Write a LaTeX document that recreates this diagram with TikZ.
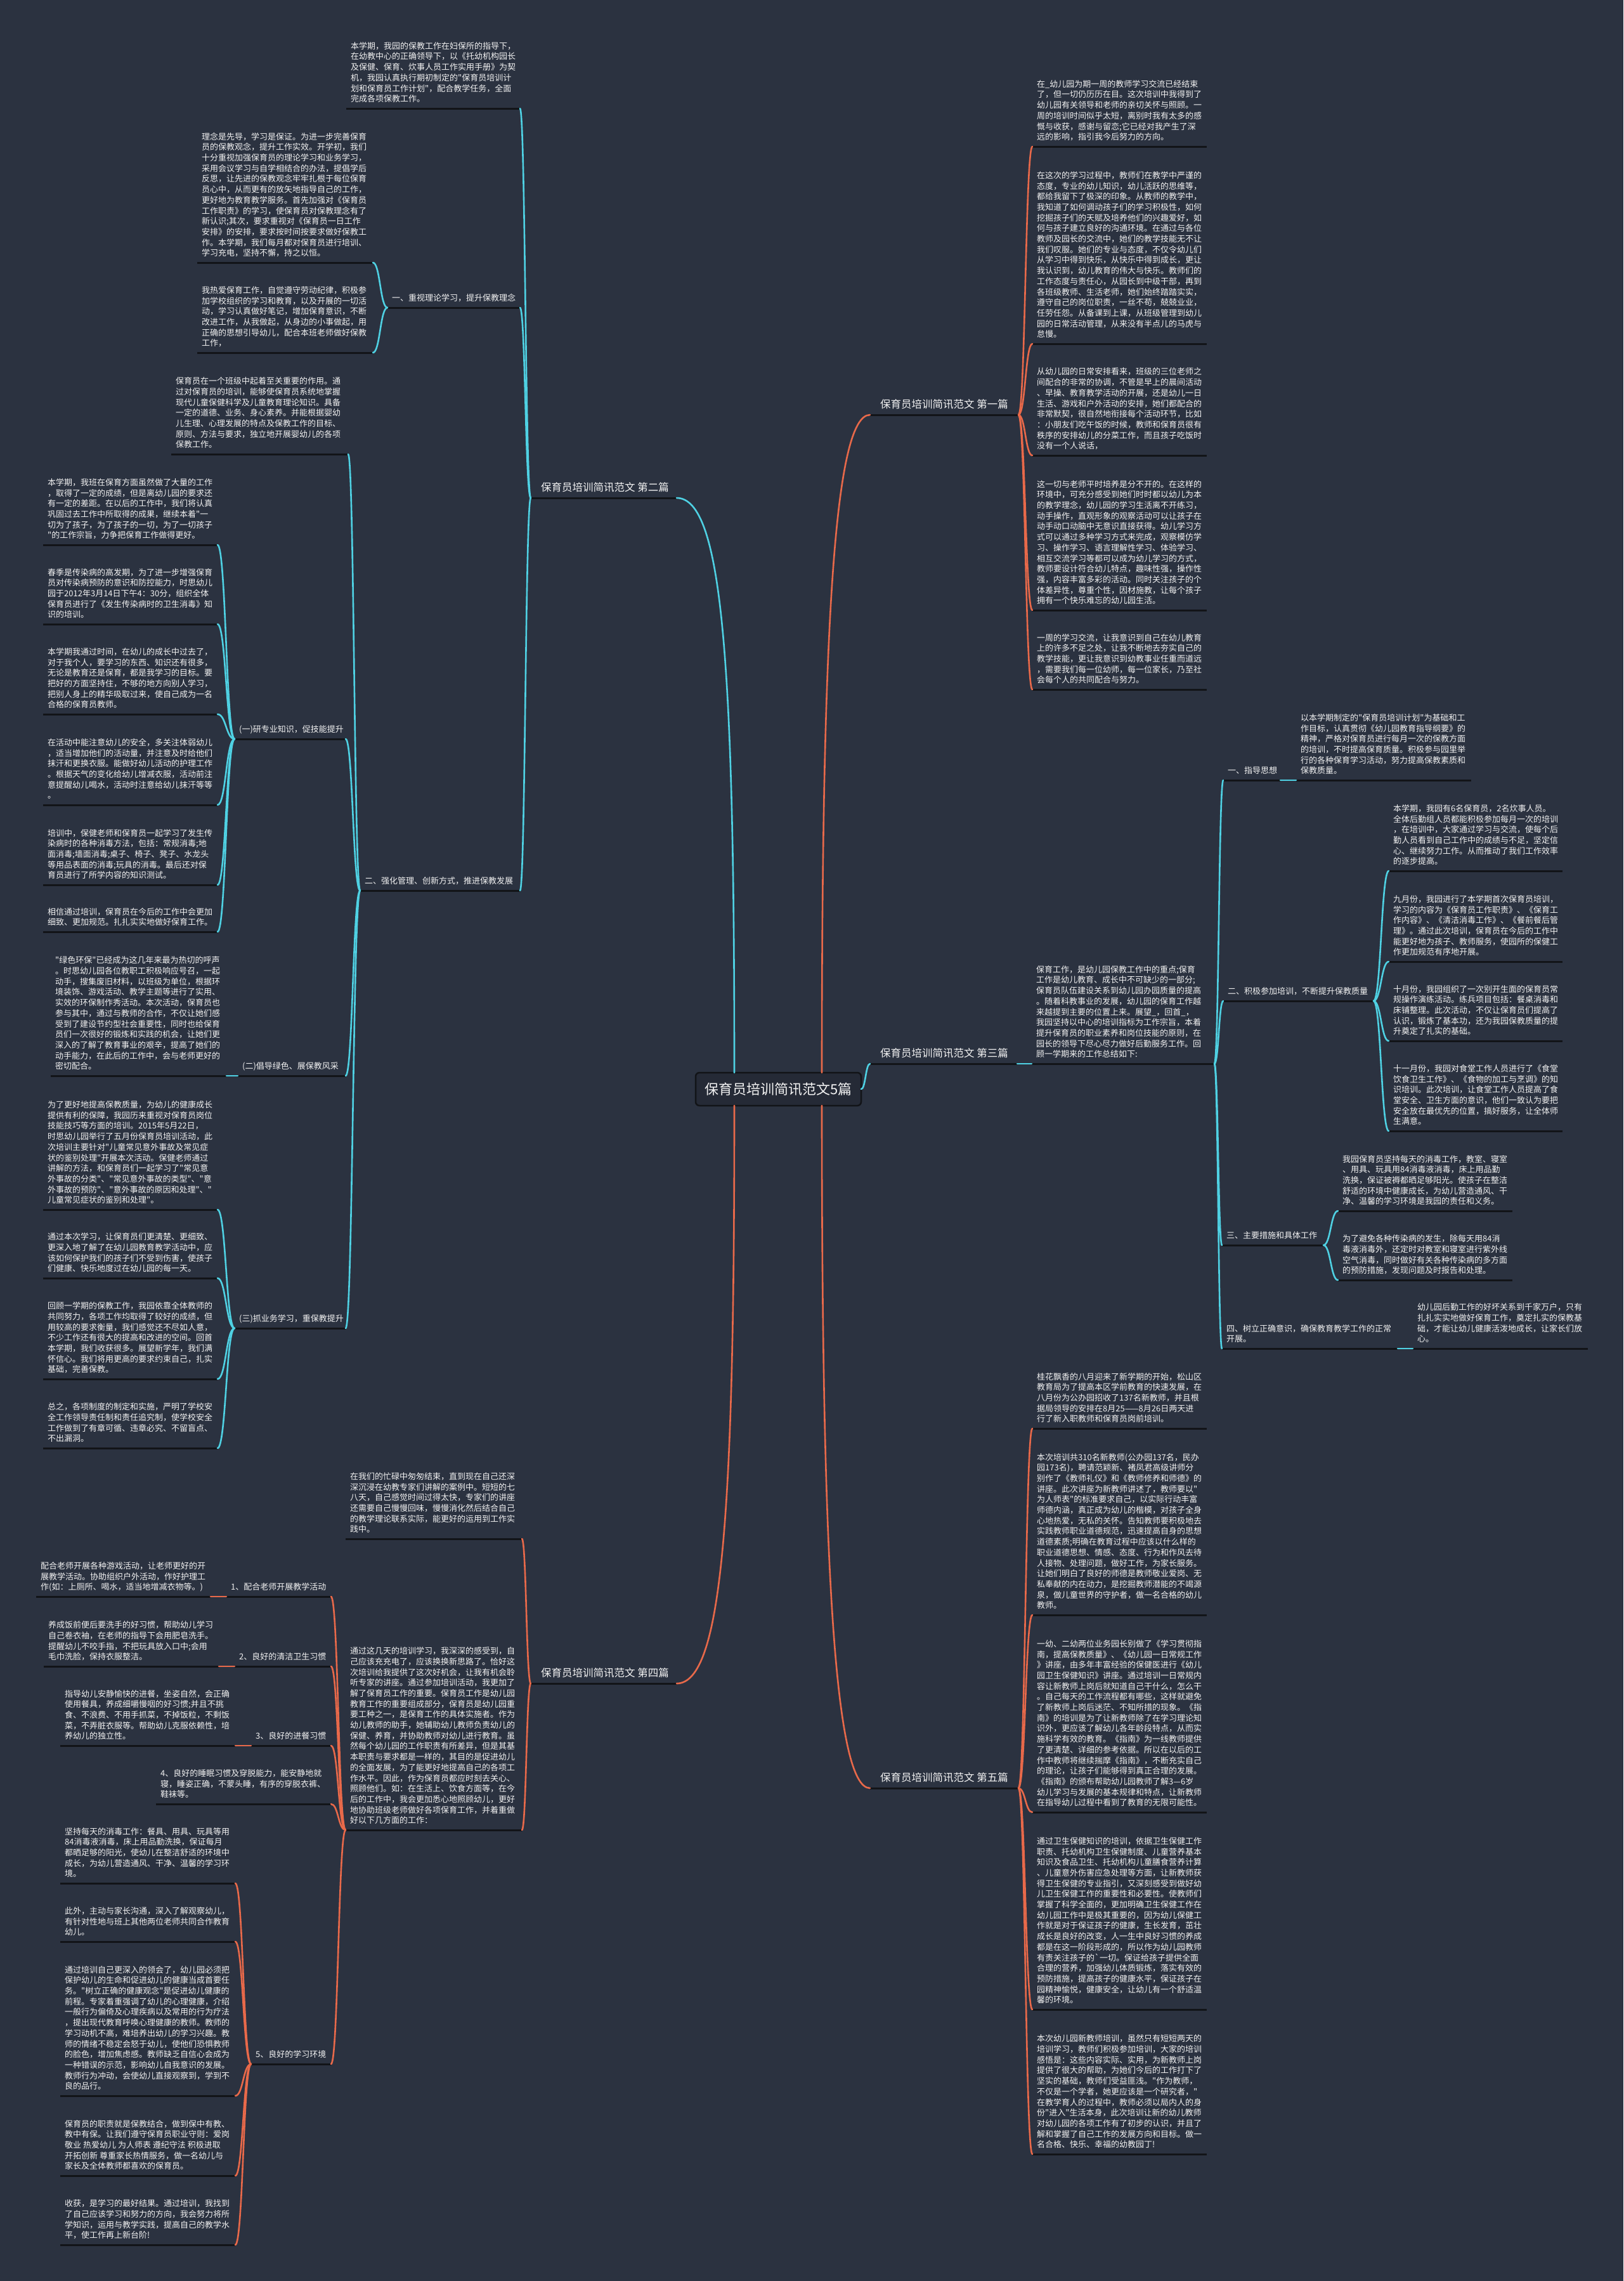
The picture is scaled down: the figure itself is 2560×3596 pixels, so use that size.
\documentclass[tikz,border=0pt]{standalone}
\usepackage{fontspec}
\newfontfamily\cjk{Noto Sans CJK SC}
\usetikzlibrary{calc}
\definecolor{bgc}{HTML}{2B3240}
\definecolor{txtc}{HTML}{F2F2F2}
\definecolor{ulc}{HTML}{121418}
\definecolor{orc}{HTML}{E8694A}
\definecolor{cyc}{HTML}{4FD1E3}
\tikzset{
  txt/.style={font=\cjk\fontsize{13}{16.7}\selectfont, text=txtc, align=left, anchor=south west, inner sep=0pt, execute at end node=\strut},
  btxt/.style={font=\cjk\fontsize{16.5}{20}\selectfont, text=txtc, align=left, anchor=south west, inner sep=0pt, execute at end node=\strut},
  uline/.style={draw=ulc, line width=3pt},
  oconn/.style={draw=orc, line width=2.6pt, line cap=round},
  cconn/.style={draw=cyc, line width=2.6pt, line cap=round},
  centerbox/.style={font=\cjk\fontsize{22}{26}\selectfont, text=txtc, fill=bgc!85!black, draw=ulc, line width=2.5pt, rounded corners=6pt, minimum width=261pt, minimum height=52pt, inner sep=0pt}
}
\newcommand\mmnode[5]{%
  \coordinate (#1L) at (#2,#4);
  \coordinate (#1R) at (#3,#4);
  \node[txt] (#1) at (#2+7,#4-5) {#5};
  \draw[uline] (#1L) -- (#1R);}
\newcommand\mmbranch[5]{%
  \coordinate (#1L) at (#2,#4);
  \coordinate (#1R) at (#3,#4);
  \node[btxt] (#1) at (#2+16,#4-4) {#5};
  \draw[uline] (#1L) -- (#1R);}
\newcommand\mmlink[3]{\draw[#1] (#2) .. controls ($(#2)!0.5!(#2-|#3)$) and ($(#3)!0.5!(#3-|#2)$) .. (#3);}
\begin{document}
\begin{tikzpicture}[x=1pt,y=-1pt]
\fill[bgc] (0,0) rectangle (2560,3596);
\useasboundingbox (0,0) rectangle (2560,3596);

% ---------- centre ----------
\node[centerbox] (ctr) at (1227.5,1717) {保育员培训简讯范文5篇};
\coordinate (ctrTR) at (1296,1691);
\coordinate (ctrBR) at (1296,1743);
\coordinate (ctrR) at (1358,1717);
\coordinate (ctrTL) at (1158,1691);
\coordinate (ctrBL) at (1158,1743);

% ---------- branch labels ----------
\mmbranch{BrA}{1372}{1606}{654}{保育员培训简讯范文 第一篇}
\mmbranch{BrB}{837}{1067}{785}{保育员培训简讯范文 第二篇}
\mmbranch{BrC}{1372}{1604}{1677}{保育员培训简讯范文 第三篇}
\mmbranch{BrD}{837}{1067}{2654}{保育员培训简讯范文 第四篇}
\mmbranch{BrE}{1372}{1606}{2819}{保育员培训简讯范文 第五篇}

\draw[oconn] (ctrTR) .. controls (1296,1000) and (1315,654) .. (BrAL);
\mmlink{cconn}{ctrR}{BrCL}
\draw[oconn] (ctrBR) .. controls (1296,2450) and (1315,2819) .. (BrEL);
\draw[cconn] (ctrTL) .. controls (1158,1050) and (1140,785) .. (BrBR);
\draw[oconn] (ctrBL) .. controls (1158,2380) and (1140,2654) .. (BrDR);

% ---------- 第二篇 ----------
\mmnode{Ta}{546}{820}{171}{本学期，我园的保教工作在妇保所的指导下，\\在幼教中心的正确领导下，以《托幼机构园长\\及保健、保育、炊事人员工作实用手册》为契\\机，我园认真执行期初制定的"保育员培训计\\划和保育员工作计划"，配合教学任务，全面\\完成各项保教工作。}
\mmnode{Oa}{611}{820}{485}{一、重视理论学习，提升保教理念}
\mmnode{Aa}{311}{588}{414}{理念是先导，学习是保证。为进一步完善保育\\员的保教观念，提升工作实效。开学初，我们\\十分重视加强保育员的理论学习和业务学习，\\采用会议学习与自学相结合的办法，提倡学后\\反思，让先进的保教观念牢牢扎根于每位保育\\员心中，从而更有的放矢地指导自己的工作，\\更好地为教育教学服务。首先加强对《保育员\\工作职责》的学习，使保育员对保教理念有了\\新认识;其次，要求重视对《保育员一日工作\\安排》的安排，要求按时间按要求做好保教工\\作。本学期，我们每月都对保育员进行培训、\\学习充电，坚持不懈，持之以恒。}
\mmnode{Ab}{311}{588}{556}{我热爱保育工作，自觉遵守劳动纪律，积极参\\加学校组织的学习和教育，以及开展的一切活\\动，学习认真做好笔记，增加保育意识，不断\\改进工作，从我做起，从身边的小事做起，用\\正确的思想引导幼儿，配合本班老师做好保教\\工作，}
\mmnode{Ob}{568}{820}{1404}{二、强化管理、创新方式，推进保教发展}
\mmnode{Ea}{270}{549}{716}{保育员在一个班级中起着至关重要的作用。通\\过对保育员的培训，能够使保育员系统地掌握\\现代儿童保健科学及儿童教育理论知识。具备\\一定的道德、业务、身心素养。并能根据婴幼\\儿生理、心理发展的特点及保教工作的目标、\\原则、方法与要求，独立地开展婴幼儿的各项\\保教工作。}
\mmnode{Ya}{370}{545}{1165}{(一)研专业知识，促技能提升}
\mmnode{Ba}{68}{343}{859}{本学期，我班在保育方面虽然做了大量的工作\\，取得了一定的成绩，但是离幼儿园的要求还\\有一定的差距。在以后的工作中，我们将认真\\巩固过去工作中所取得的成果，继续本着"一\\切为了孩子，为了孩子的一切，为了一切孩子\\"的工作宗旨，力争把保育工作做得更好。}
\mmnode{Bb}{68}{343}{984}{春季是传染病的高发期，为了进一步增强保育\\员对传染病预防的意识和防控能力，时思幼儿\\园于2012年3月14日下午4：30分，组织全体\\保育员进行了《发生传染病时的卫生消毒》知\\识的培训。}
\mmnode{Bc}{68}{343}{1126}{本学期我通过时间，在幼儿的成长中过去了，\\对于我个人，要学习的东西、知识还有很多，\\无论是教育还是保育，都是我学习的目标。要\\把好的方面坚持住，不够的地方向别人学习，\\把别人身上的精华吸取过来，使自己成为一名\\合格的保育员教师。}
\mmnode{Bd}{68}{343}{1269}{在活动中能注意幼儿的安全，多关注体弱幼儿\\，适当增加他们的活动量，并注意及时给他们\\抹汗和更换衣服。能做好幼儿活动的护理工作\\。根据天气的变化给幼儿增减衣服，活动前注\\意提醒幼儿喝水，活动时注意给幼儿抹汗等等\\。}
\mmnode{Be}{68}{343}{1395}{培训中，保健老师和保育员一起学习了发生传\\染病时的各种消毒方法，包括：常规消毒;地\\面消毒;墙面消毒;桌子、椅子、凳子、水龙头\\等用品表面的消毒;玩具的消毒。最后还对保\\育员进行了所学内容的知识测试。}
\mmnode{Bf}{68}{343}{1469}{相信通过培训，保育员在今后的工作中会更加\\细致、更加规范。扎扎实实地做好保育工作。}
\mmnode{Yb}{375}{545}{1696}{(二)倡导绿色、展保教风采}
\mmnode{Ga}{80}{357}{1696}{"绿色环保"已经成为这几年来最为热切的呼声\\。时思幼儿园各位教职工积极响应号召，一起\\动手，搜集废旧材料，以班级为单位，根据环\\境装饰、游戏活动、教学主题等进行了实用、\\实效的环保制作秀活动。本次活动，保育员也\\参与其中，通过与教师的合作，不仅让她们感\\受到了建设节约型社会重要性，同时也给保育\\员们一次很好的锻炼和实践的机会，让她们更\\深入的了解了教育事业的艰辛，提高了她们的\\动手能力，在此后的工作中，会与老师更好的\\密切配合。}
\mmnode{Yc}{370}{545}{2094}{(三)抓业务学习，重保教提升}
\mmnode{Ca}{68}{343}{1907}{为了更好地提高保教质量，为幼儿的健康成长\\提供有利的保障，我园历来重视对保育员岗位\\技能技巧等方面的培训。2015年5月22日，\\时思幼儿园举行了五月份保育员培训活动，此\\次培训主要针对"儿童常见意外事故及常见症\\状的鉴别处理"开展本次活动。保健老师通过\\讲解的方法，和保育员们一起学习了"常见意\\外事故的分类"、"常见意外事故的类型"、"意\\外事故的预防"、"意外事故的原因和处理"、"\\儿童常见症状的鉴别和处理"。}
\mmnode{Cb}{68}{343}{2015}{通过本次学习，让保育员们更清楚、更细致、\\更深入地了解了在幼儿园教育教学活动中，应\\该如何保护我们的孩子们不受到伤害，使孩子\\们健康、快乐地度过在幼儿园的每一天。}
\mmnode{Cc}{68}{343}{2174}{回顾一学期的保教工作，我园依靠全体教师的\\共同努力，各项工作均取得了较好的成绩，但\\用较高的要求衡量，我们感觉还不尽如人意，\\不少工作还有很大的提高和改进的空间。回首\\本学期，我们收获很多。展望新学年，我们满\\怀信心。我们将用更高的要求约束自己，扎实\\基础，完善保教。}
\mmnode{Cd}{68}{343}{2283}{总之，各项制度的制定和实施，严明了学校安\\全工作领导责任制和责任追究制，使学校安全\\工作做到了有章可循、违章必究、不留盲点、\\不出漏洞。}

\foreach \c in {TaR,OaR,ObR} {\mmlink{cconn}{BrBL}{\c}}
\foreach \c in {AaR,AbR} {\mmlink{cconn}{OaL}{\c}}
\foreach \c in {EaR,YaR,YbR,YcR} {\mmlink{cconn}{ObL}{\c}}
\foreach \c in {BaR,BbR,BcR,BdR,BeR,BfR} {\mmlink{cconn}{YaL}{\c}}
\mmlink{cconn}{YbL}{GaR}
\foreach \c in {CaR,CbR,CcR,CdR} {\mmlink{cconn}{YcL}{\c}}

% ---------- 第四篇 ----------
\mmnode{Ra}{545}{823}{2426}{在我们的忙碌中匆匆结束，直到现在自己还深\\深沉浸在幼教专家们讲解的案例中。短短的七\\八天，自己感觉时间过得太快，专家们的讲座\\还需要自己慢慢回味，慢慢消化然后结合自己\\的教学理论联系实际，能更好的运用到工作实\\践中。}
\mmnode{Rb}{545}{823}{2885}{通过这几天的培训学习，我深深的感受到，自\\己应该充充电了，应该换换新思路了。恰好这\\次培训给我提供了这次好机会，让我有机会聆\\听专家的讲座。通过参加培训活动，我更加了\\解了保育员工作的重要。保育员工作是幼儿园\\教育工作的重要组成部分，保育员是幼儿园重\\要工种之一，是保育工作的具体实施者。作为\\幼儿教师的助手，她辅助幼儿教师负责幼儿的\\保健、养育，并协助教师对幼儿进行教育。虽\\然每个幼儿园的工作职责有所差异，但是其基\\本职责与要求都是一样的，其目的是促进幼儿\\的全面发展，为了能更好地提高自己的各项工\\作水平。因此，作为保育员都应时刻去关心、\\照顾他们。如：在生活上、饮食方面等，在今\\后的工作中，我会更加悉心地照顾幼儿，更好\\地协助班级老师做好各项保育工作，并着重做\\好以下几方面的工作：}
\mmnode{La}{357}{522}{2517}{1、配合老师开展教学活动}
\mmnode{Pa}{57}{332}{2517}{配合老师开展各种游戏活动，让老师更好的开\\展教学活动。协助组织户外活动，作好护理工\\作(如：上厕所、喝水，适当地增减衣物等。)}
\mmnode{Lb}{370}{522}{2627}{2、良好的清洁卫生习惯}
\mmnode{Pb}{69}{345}{2627}{养成饭前便后要洗手的好习惯，帮助幼儿学习\\自己卷衣袖，在老师的指导下会用肥皂洗手。\\提醒幼儿不咬手指，不把玩具放入口中;会用\\毛巾洗脸，保持衣服整洁。}
\mmnode{Lc}{396}{522}{2752}{3、良好的进餐习惯}
\mmnode{Pc}{95}{371}{2752}{指导幼儿安静愉快的进餐，坐姿自然，会正确\\使用餐具，养成细嚼慢咽的好习惯;并且不挑\\食、不浪费、不用手抓菜，不掉饭粒，不剩饭\\菜，不弄脏衣服等。帮助幼儿克服依赖性，培\\养幼儿的独立性。}
\mmnode{Ld}{246}{522}{2844}{4、良好的睡眠习惯及穿脱能力，能安静地就\\寝，睡姿正确，不蒙头睡，有序的穿脱衣裤、\\鞋袜等。}
\mmnode{Le}{396}{522}{3254}{5、良好的学习环境}
\mmnode{Qa}{95}{371}{2969}{坚持每天的消毒工作：餐具、用具、玩具等用\\84消毒液消毒，床上用品勤洗换，保证每月\\都晒足够的阳光，使幼儿在整洁舒适的环境中\\成长，为幼儿营造通风、干净、温馨的学习环\\境。}
\mmnode{Qb}{95}{371}{3061}{此外，主动与家长沟通，深入了解观察幼儿，\\有针对性地与班上其他两位老师共同合作教育\\幼儿。}
\mmnode{Qc}{95}{371}{3304}{通过培训自己更深入的领会了，幼儿园必须把\\保护幼儿的生命和促进幼儿的健康当成首要任\\务。"树立正确的健康观念"是促进幼儿健康的\\前程。专家着重强调了幼儿的心理健康，介绍\\一般行为偏倚及心理疾病以及常用的行为疗法\\，提出现代教育呼唤心理健康的教师。教师的\\学习动机不高，难培养出幼儿的学习兴趣。教\\师的情绪不稳定会怒于幼儿，使他们恐惧教师\\的脸色，增加焦虑感。教师缺乏自信心会成为\\一种错误的示范，影响幼儿自我意识的发展。\\教师行为冲动，会使幼儿直接观察到，学到不\\良的品行。}
\mmnode{Qd}{95}{371}{3430}{保育员的职责就是保教结合，做到保中有教、\\教中有保。让我们遵守保育员职业守则：爱岗\\敬业 热爱幼儿 为人师表 遵纪守法 积极进取\\开拓创新 尊重家长热情服务，做一名幼儿与\\家长及全体教师都喜欢的保育员。}
\mmnode{Qe}{95}{371}{3539}{收获，是学习的最好结果。通过培训，我找到\\了自己应该学习和努力的方向，我会努力将所\\学知识，运用与教学实践，提高自己的教学水\\平，使工作再上新台阶!}

\foreach \c in {RaR,RbR} {\mmlink{oconn}{BrDL}{\c}}
\foreach \c in {LaR,LbR,LcR,LdR,LeR} {\mmlink{oconn}{RbL}{\c}}
\mmlink{oconn}{LaL}{PaR}
\mmlink{oconn}{LbL}{PbR}
\mmlink{oconn}{LcL}{PcR}
\foreach \c in {QaR,QbR,QcR,QdR,QeR} {\mmlink{oconn}{LeL}{\c}}

% ---------- 第一篇 ----------
\mmnode{Sa}{1628}{1903}{231}{在\_幼儿园为期一周的教师学习交流已经结束\\了，但一切仍历历在目。这次培训中我得到了\\幼儿园有关领导和老师的亲切关怀与照顾。一\\周的培训时间似乎太短，离别时我有太多的感\\慨与收获，感谢与留恋;它已经对我产生了深\\远的影响，指引我今后努力的方向。}
\mmnode{Sb}{1628}{1903}{542}{在这次的学习过程中，教师们在教学中严谨的\\态度，专业的幼儿知识，幼儿活跃的思维等，\\都给我留下了极深的印象。从教师的教学中，\\我知道了如何调动孩子们的学习积极性，如何\\挖掘孩子们的天赋及培养他们的兴趣爱好，如\\何与孩子建立良好的沟通环境。在通过与各位\\教师及园长的交流中，她们的教学技能无不让\\我们叹服。她们的专业与态度，不仅令幼儿们\\从学习中得到快乐，从快乐中得到成长，更让\\我认识到，幼儿教育的伟大与快乐。教师们的\\工作态度与责任心，从园长到中级干部，再到\\各班级教师、生活老师，她们始终踏踏实实，\\遵守自己的岗位职责，一丝不苟，兢兢业业，\\任劳任怨。从备课到上课，从班级管理到幼儿\\园的日常活动管理，从来没有半点儿的马虎与\\怠慢。}
\mmnode{Sc}{1628}{1903}{718}{从幼儿园的日常安排看来，班级的三位老师之\\间配合的非常的协调，不管是早上的晨间活动\\、早操、教育教学活动的开展，还是幼儿一日\\生活、游戏和户外活动的安排，她们都配合的\\非常默契，很自然地衔接每个活动环节，比如\\：小朋友们吃午饭的时候，教师和保育员很有\\秩序的安排幼儿的分菜工作，而且孩子吃饭时\\没有一个人说话，}
\mmnode{Sd}{1628}{1903}{962}{这一切与老师平时培养是分不开的。在这样的\\环境中，可充分感受到她们时时都以幼儿为本\\的教学理念，幼儿园的学习生活离不开练习，\\动手操作，直观形象的观察活动可以让孩子在\\动手动口动脑中无意识直接获得。幼儿学习方\\式可以通过多种学习方式来完成，观察模仿学\\习、操作学习、语言理解性学习、体验学习、\\相互交流学习等都可以成为幼儿学习的方式，\\教师要设计符合幼儿特点，趣味性强，操作性\\强，内容丰富多彩的活动。同时关注孩子的个\\体差异性，尊重个性，因材施教，让每个孩子\\拥有一个快乐难忘的幼儿园生活。}
\mmnode{Se}{1628}{1903}{1087}{一周的学习交流，让我意识到自己在幼儿教育\\上的许多不足之处，让我不断地去夯实自己的\\教学技能，更让我意识到幼教事业任重而道远\\，需要我们每一位幼师，每一位家长，乃至社\\会每个人的共同配合与努力。}
\foreach \c in {SaL,SbL,ScL,SdL,SeL} {\mmlink{oconn}{BrAR}{\c}}

% ---------- 第三篇 ----------
\mmnode{Ha}{1627}{1915}{1677}{保育工作，是幼儿园保教工作中的重点;保育\\工作是幼儿教育、成长中不可缺少的一部分;\\保育员队伍建设关系到幼儿园办园质量的提高\\。随着科教事业的发展，幼儿园的保育工作越\\来越提到主要的位置上来。展望\_，回首\_，\\我园坚持以中心的培训指标为工作宗旨，本着\\提升保育员的职业素养和岗位技能的原则，在\\园长的领导下尽心尽力做好后勤服务工作。回\\顾一学期来的工作总结如下:}
\mmnode{Ia}{1929}{2019}{1230}{一、指导思想}
\mmnode{Ja}{2044}{2320}{1230}{以本学期制定的"保育员培训计划"为基础和工\\作目标，认真贯彻《幼儿园教育指导纲要》的\\精神，严格对保育员进行每月一次的保教方面\\的培训，不时提高保育质量。积极参与园里举\\行的各种保育学习活动，努力提高保教素质和\\保教质量。}
\mmnode{Ib}{1929}{2166}{1578}{二、积极参加培训，不断提升保教质量}
\mmnode{Ka}{2190}{2464}{1373}{本学期，我园有6名保育员，2名炊事人员。\\全体后勤组人员都能积极参加每月一次的培训\\，在培训中，大家通过学习与交流，使每个后\\勤人员看到自己工作中的成绩与不足，坚定信\\心、继续努力工作。从而推动了我们工作效率\\的逐步提高。}
\mmnode{Kb}{2190}{2464}{1516}{九月份，我园进行了本学期首次保育员培训，\\学习的内容为《保育员工作职责》、《保育工\\作内容》、《清洁消毒工作》、《餐前餐后管\\理》。通过此次培训，保育员在今后的工作中\\能更好地为孩子、教师服务，使园所的保健工\\作更加规范有序地开展。}
\mmnode{Kc}{2190}{2464}{1641}{十月份，我园组织了一次别开生面的保育员常\\规操作演练活动。练兵项目包括：餐桌消毒和\\床铺整理。此次活动，不仅让保育员们提高了\\认识，锻炼了基本功，还为我园保教质量的提\\升奠定了扎实的基础。}
\mmnode{Kd}{2190}{2464}{1783}{十一月份，我园对食堂工作人员进行了《食堂\\饮食卫生工作》、《食物的加工与烹调》的知\\识培训。此次培训，让食堂工作人员提高了食\\堂安全、卫生方面的意识，他们一致认为要把\\安全放在最优先的位置，搞好服务，让全体师\\生满意。}
\mmnode{Ic}{1927}{2087}{1963}{三、主要措施和具体工作}
\mmnode{Ma}{2110}{2385}{1909}{我园保育员坚持每天的消毒工作，教室、寝室\\、用具、玩具用84消毒液消毒，床上用品勤\\洗换，保证被褥都晒足够阳光。使孩子在整洁\\舒适的环境中健康成长，为幼儿营造通风、干\\净、温馨的学习环境是我园的责任和义务。}
\mmnode{Mb}{2110}{2385}{2018}{为了避免各种传染病的发生，除每天用84消\\毒液消毒外，还定时对教室和寝室进行紫外线\\空气消毒，同时做好有关各种传染病的多方面\\的预防措施，发现问题及时报告和处理。}
\mmnode{Id}{1927}{2204}{2126}{四、树立正确意识，确保教育教学工作的正常\\开展。}
\mmnode{Na}{2228}{2504}{2126}{幼儿园后勤工作的好坏关系到千家万户，只有\\扎扎实实地做好保育工作，奠定扎实的保教基\\础，才能让幼儿健康活泼地成长，让家长们放\\心。}
\mmlink{cconn}{BrCR}{HaL}
\foreach \c in {IaL,IbL,IcL,IdL} {\mmlink{cconn}{HaR}{\c}}
\mmlink{cconn}{IaR}{JaL}
\foreach \c in {KaL,KbL,KcL,KdL} {\mmlink{cconn}{IbR}{\c}}
\foreach \c in {MaL,MbL} {\mmlink{cconn}{IcR}{\c}}
\mmlink{cconn}{IdR}{NaL}

% ---------- 第五篇 ----------
\mmnode{Va}{1628}{1903}{2252}{桂花飘香的八月迎来了新学期的开始，松山区\\教育局为了提高本区学前教育的快速发展，在\\八月份为公办园招收了137名新教师，并且根\\据局领导的安排在8月25——8月26日两天进\\行了新入职教师和保育员岗前培训。}
\mmnode{Vb}{1628}{1903}{2546}{本次培训共310名新教师(公办园137名，民办\\园173名)，聘请范颖新、褚凤君高级讲师分\\别作了《教师礼仪》和《教师修养和师德》的\\讲座。此次讲座为新教师讲述了，教师要以"\\为人师表"的标准要求自己，以实际行动丰富\\师德内涵，真正成为幼儿的楷模，对孩子全身\\心地热爱，无私的关怀。告知教师要积极地去\\实践教师职业道德规范，迅速提高自身的思想\\道德素质;明确在教育过程中应该以什么样的\\职业道德思想、情感、态度、行为和作风去待\\人接物、处理问题，做好工作，为家长服务。\\让她们明白了良好的师德是教师敬业爱岗、无\\私奉献的内在动力，是挖掘教师潜能的不竭源\\泉，做儿童世界的守护者，做一名合格的幼儿\\教师。}
\mmnode{Vc}{1628}{1903}{2857}{一幼、二幼两位业务园长别做了《学习贯彻指\\南，提高保教质量》、《幼儿园一日常规工作\\》讲座，由多年丰富经验的保健医进行《幼儿\\园卫生保健知识》讲座。通过培训一日常规内\\容让新教师上岗后就知道自己干什么，怎么干\\。自己每天的工作流程都有哪些，这样就避免\\了新教师上岗后迷茫、不知所措的现象。《指\\南》的培训是为了让新教师除了在学习理论知\\识外，更应该了解幼儿各年龄段特点，从而实\\施科学有效的教育。《指南》为一线教师提供\\了更清楚、详细的参考依据。所以在以后的工\\作中教师将继续揣摩《指南》，不断充实自己\\的理论，让孩子们能够得到真正合理的发展。\\《指南》的颁布帮助幼儿园教师了解3—6岁\\幼儿学习与发展的基本规律和特点，让新教师\\在指导幼儿过程中看到了教育的无限可能性。}
\mmnode{Vd}{1628}{1903}{3168}{通过卫生保健知识的培训，依据卫生保健工作\\职责、托幼机构卫生保健制度、儿童营养基本\\知识及食品卫生、托幼机构儿童膳食营养计算\\、儿童意外伤害应急处理等方面，让新教师获\\得卫生保健的专业指引，又深刻感受到做好幼\\儿卫生保健工作的重要性和必要性。使教师们\\掌握了科学全面的，更加明确卫生保健工作在\\幼儿园工作中是极其重要的，因为幼儿保健工\\作就是对于保证孩子的健康，生长发育，茁壮\\成长是良好的改变，人一生中良好习惯的养成\\都是在这一阶段形成的，所以作为幼儿园教师\\有责关注孩子的`一切。保证给孩子提供全面\\合理的营养，加强幼儿体质锻炼，落实有效的\\预防措施，提高孩子的健康水平，保证孩子在\\园精神愉悦，健康安全，让幼儿有一个舒适温\\馨的环境。}
\mmnode{Ve}{1628}{1903}{3396}{本次幼儿园新教师培训，虽然只有短短两天的\\培训学习，教师们积极参加培训，大家的培训\\感悟是：这些内容实际、实用，为新教师上岗\\提供了很大的帮助，为她们今后的工作打下了\\坚实的基础，教师们受益匪浅。"作为教师，\\不仅是一个学者，她更应该是一个研究者，"\\在教学育人的过程中，教师必须以局内人的身\\份"进入"生活本身，此次培训让新的幼儿教师\\对幼儿园的各项工作有了初步的认识，并且了\\解和掌握了自己工作的发展方向和目标。做一\\名合格、快乐、幸福的幼教园丁!}
\foreach \c in {VaL,VbL,VcL,VdL,VeL} {\mmlink{oconn}{BrER}{\c}}
\end{tikzpicture}
\end{document}
